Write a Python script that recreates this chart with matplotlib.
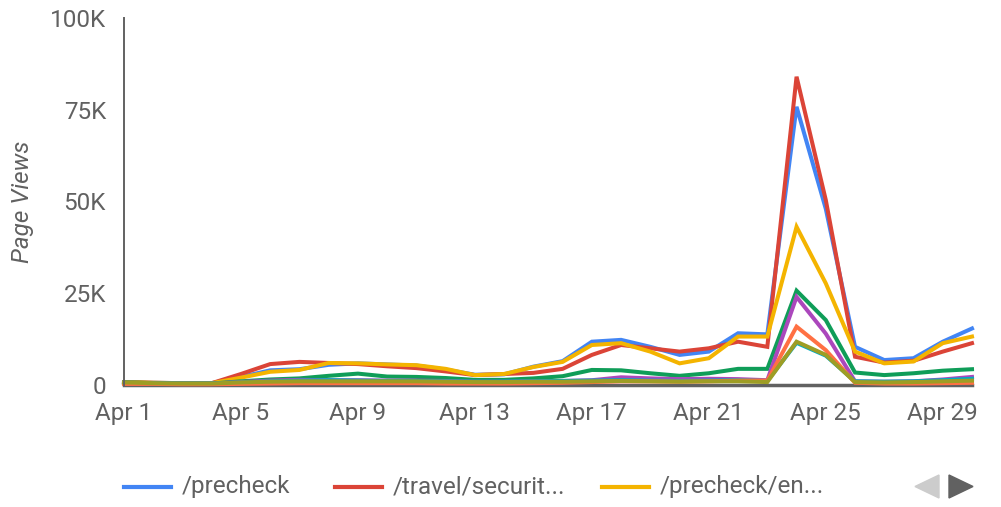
import matplotlib.pyplot as plt
from matplotlib.lines import Line2D
from matplotlib.patches import Polygon

plt.rcParams['font.family'] = ['Roboto', 'DejaVu Sans']

days = list(range(1, 31))
tick_days = [1, 5, 9, 13, 17, 21, 25, 29]
tick_labels = ['Apr %d' % d for d in tick_days]

# page views per day
precheck = [800, 600, 500, 500, 2200, 4000, 4300, 5500, 5900, 5600, 5300, 4200, 2800, 2900, 5000, 6500,
            11800, 12300, 10400, 8200, 9100, 14100, 13800, 75800, 48000, 10400, 6800, 7300, 11800, 15400]
travel_security = [800, 600, 500, 500, 3000, 5700, 6300, 6000, 5700, 5100, 4600, 3700, 2700, 3000, 3300, 4400,
                   8200, 10900, 10000, 9100, 10000, 11800, 10400, 84000, 50400, 7700, 6100, 6600, 9100, 11400]
precheck_en = [800, 600, 500, 500, 2000, 3600, 4100, 6000, 5900, 5600, 5400, 4400, 2700, 3000, 4900, 6300,
               10900, 11400, 9100, 5900, 7300, 13200, 13200, 43100, 27700, 9100, 5900, 6400, 11400, 13200]
series4 = [700, 500, 400, 400, 1000, 1500, 1800, 2500, 3100, 2300, 2200, 1900, 1400, 1400, 1800, 2400,
           4100, 4000, 3200, 2500, 3200, 4400, 4400, 25700, 17700, 3400, 2700, 3200, 3900, 4300]
series5 = [600, 500, 400, 400, 800, 1200, 1400, 1300, 1300, 1200, 1200, 1100, 900, 900, 1000, 1100,
           1300, 2100, 1800, 1600, 1700, 1600, 1300, 24000, 14000, 1000, 900, 1000, 1500, 2200]
series6 = [600, 500, 400, 400, 700, 1000, 1200, 1300, 1200, 1100, 1100, 1000, 900, 900, 1000, 1100,
           1200, 1300, 1200, 1100, 1200, 1300, 1100, 11500, 8000, 1000, 900, 1000, 1300, 1700]
series7 = [300, 300, 200, 200, 300, 400, 500, 500, 500, 500, 500, 400, 400, 400, 500, 600,
           800, 1000, 1000, 900, 1000, 1200, 1200, 15900, 9500, 600, 400, 400, 500, 600]
series8 = [700, 500, 400, 400, 700, 900, 1000, 1000, 1000, 1000, 1000, 900, 800, 800, 900, 900,
           1000, 1100, 1000, 900, 1000, 1000, 800, 11800, 8200, 800, 700, 800, 1000, 1200]

series = [precheck, travel_security, precheck_en, series4, series5, series6, series7, series8]
colors = ['#4285F4', '#DB4437', '#F4B400', '#0F9D58', '#AB47BC', '#00ACC1', '#FF7043', '#9E9D24']
legend_labels = ['/precheck', '/travel/securit...', '/precheck/en...']

W, H = 1001, 507
fig = plt.figure(figsize=(W / 100, H / 100), dpi=100)
ax = fig.add_axes([124 / W, 1 - 385 / H, (972 - 124) / W, (385 - 18) / H])

for vals, c in zip(series, colors):
    ax.plot(days, vals, color=c, lw=2.9, solid_joinstyle='miter', clip_on=False)

ax.set_xlim(1, 30)
ax.set_ylim(0, 100000)
ax.set_yticks([0, 25000, 50000, 75000, 100000])
ax.set_yticklabels(['0', '25K', '50K', '75K', '100K'])
ax.set_xticks(tick_days)
ax.set_xticklabels(tick_labels)

gray = '#616161'
fs = 17.5
for s in ['top', 'right']:
    ax.spines[s].set_visible(False)
ax.spines['left'].set_color(gray)
ax.spines['left'].set_linewidth(1.4)
ax.spines['bottom'].set_color(gray)
ax.spines['bottom'].set_linewidth(2.5)
ax.spines['bottom'].set_zorder(0)
ax.tick_params(length=0, labelsize=fs, colors=gray)
ax.tick_params(axis='y', pad=13)
ax.tick_params(axis='x', pad=12)
ax.set_ylabel('Page Views', fontsize=fs, color=gray, style='italic')
ax.yaxis.set_label_coords(-90 / (972 - 124), (385 - 202) / (385 - 18))

# legend (first page)
leg_y = 1 - 487 / H
leg_x = [(124, 182), (335, 393), (602, 660)]
for (lx, tx), c, lab in zip(leg_x, colors, legend_labels):
    fig.add_artist(Line2D([lx / W, (lx + 47) / W], [leg_y, leg_y], color=c, lw=3))
    fig.text(tx / W, leg_y, lab, fontsize=fs, color=gray, va='center', ha='left')

fig.add_artist(Polygon([[939 / W, 1 - 475 / H], [939 / W, 1 - 498 / H], [915 / W, 1 - 486.5 / H]],
                       closed=True, color='#cccccc', transform=fig.transFigure))
fig.add_artist(Polygon([[949 / W, 1 - 475 / H], [949 / W, 1 - 498 / H], [973 / W, 1 - 486.5 / H]],
                       closed=True, color=gray, transform=fig.transFigure))

fig.savefig('out.png', dpi=100)
